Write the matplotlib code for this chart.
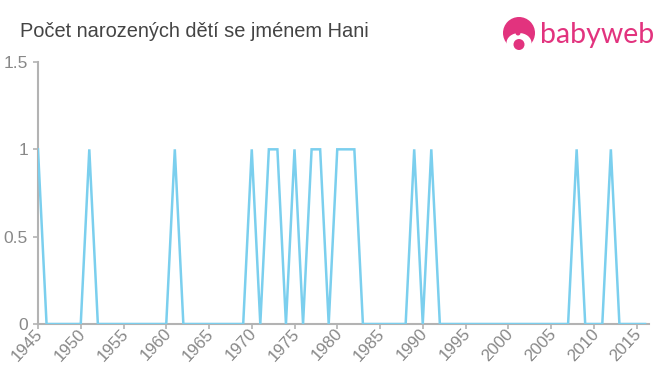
import numpy as np
from matplotlib import pyplot as plt
from matplotlib.patches import Circle, Ellipse
from matplotlib.transforms import ScaledTranslation

title = 'Počet narozených dětí se jménem Hani'
years = list(range(1945, 2017))
# one value per year, 1945-2016
counts = [1, 0, 0, 0, 0, 0, 1, 0, 0, 0,   # 1945-54
          0, 0, 0, 0, 0, 0, 1, 0, 0, 0,   # 1955-64
          0, 0, 0, 0, 0, 1, 0, 1, 1, 0,   # 1965-74
          1, 0, 1, 1, 0, 1, 1, 1, 0, 0,   # 1975-84
          0, 0, 0, 0, 1, 0, 1, 0, 0, 0,   # 1985-94
          0, 0, 0, 0, 0, 0, 0, 0, 0, 0,   # 1995-2004
          0, 0, 0, 1, 0, 0, 0, 1, 0, 0,   # 2005-14
          0, 0]                           # 2015-16
xticks = list(range(1945, 2020, 5))
yticks = [0, 0.5, 1, 1.5]
ylabels = ['0', '0.5', '1', '1.5']

GREY = '#b3b3b3'
TXT = '#888888'
PINK = '#e2337e'

plt.rcParams['font.family'] = ['Liberation Sans', 'DejaVu Sans']

fig = plt.figure(figsize=(6.6, 3.75), dpi=100)
ax = fig.add_axes([38/660, 1-324/375, (649-38)/660, (324-62)/375])
ax.plot(years, counts, color='#7bcfee', lw=1.8, solid_joinstyle='miter', zorder=4)
ax.set_xlim(1945, 1945 + (649-38)/8.55)
ax.set_ylim(0, 1.5)

for s in ['top', 'right']:
    ax.spines[s].set_visible(False)
for s in ['left', 'bottom']:
    ax.spines[s].set_color(GREY)
    ax.spines[s].set_linewidth(1.5)
    ax.spines[s].set_zorder(1)

ax.set_xticks(xticks)
ax.set_yticks(yticks)
ax.set_yticklabels(ylabels)
ax.tick_params(axis='y', color=GREY, width=1.2, length=3.6, pad=3.6, labelsize=12.5, labelcolor=TXT)
ax.tick_params(axis='x', color=GREY, width=1.2, length=3.6, pad=1.5, labelsize=12.2, labelcolor=TXT)
shift = ScaledTranslation(2.5/100, 0, fig.dpi_scale_trans)
for t in ax.get_xticklabels():
    t.set_rotation(47)
    t.set_ha('right')
    t.set_va('center')
    t.set_rotation_mode('anchor')
    t.set_transform(t.get_transform() + shift)

fig.text(20/660, 1-31.5/375, title, fontsize=14.4, color='#444444', va='center', ha='left')

# logo
lg = fig.add_axes([0, 0, 1, 1], facecolor='none')
lg.set_xlim(0, 660)
lg.set_ylim(375, 0)
lg.axis('off')
lg.add_patch(Circle((519, 33), 16, color=PINK, lw=0))
lg.add_patch(Ellipse((519, 43), 25, 20, color='white', lw=0))
lg.add_patch(Circle((518, 33), 2.5, color=PINK, lw=0))
lg.add_patch(Circle((519, 44.5), 5.5, color=PINK, lw=0))
lg.text(540, 35, 'babyweb', color=PINK, fontsize=20.5, family='Lato', va='center', ha='left')

fig.savefig('out.png', dpi=100)
